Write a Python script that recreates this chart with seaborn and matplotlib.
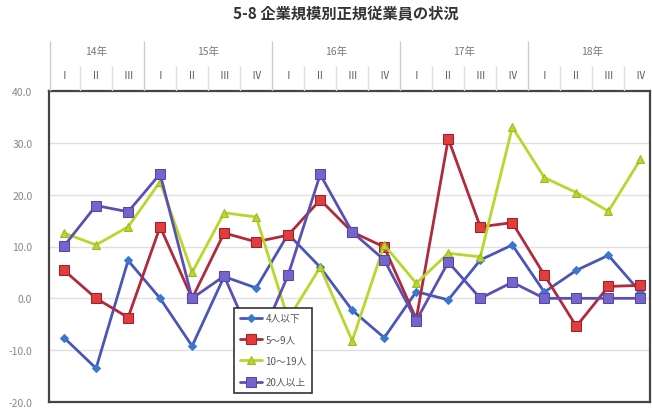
import matplotlib
matplotlib.use("Agg")
import matplotlib.pyplot as plt
import numpy as np
import seaborn as sns

sns.set_theme(style="white")
plt.rcParams['font.family'] = ['Noto Sans CJK JP', 'DejaVu Sans']

# data
years = ['14年', '15年', '16年', '17年', '18年']
year_counts = [3, 4, 4, 4, 4]
quarters = ['Ⅰ', 'Ⅱ', 'Ⅲ',
            'Ⅰ', 'Ⅱ', 'Ⅲ', 'Ⅳ',
            'Ⅰ', 'Ⅱ', 'Ⅲ', 'Ⅳ',
            'Ⅰ', 'Ⅱ', 'Ⅲ', 'Ⅳ',
            'Ⅰ', 'Ⅱ', 'Ⅲ', 'Ⅳ']
labels = ['4人以下', '5～9人', '10～19人', '20人以上']
v_4 = [-7.6, -13.5, 7.3, 0.0, -9.2, 4.2, 2.0, 12.4, 6.0, -2.3, -7.6,
       1.3, -0.3, 7.4, 10.3, 1.2, 5.4, 8.3, 1.2]
v_5_9 = [5.4, 0.0, -3.7, 13.8, 0.0, 12.6, 10.9, 12.2, 19.0, 12.8, 9.9,
         -4.0, 30.8, 13.8, 14.6, 4.5, -5.4, 2.3, 2.5]
v_10_19 = [12.6, 10.3, 13.8, 22.5, 5.0, 16.5, 15.7, -4.0, 6.0, -8.2, 10.3,
           2.9, 8.7, 8.0, 33.0, 23.3, 20.4, 16.8, 26.8]
v_20 = [10.1, 17.9, 16.7, 24.0, 0.0, 4.3, -9.8, 4.5, 23.9, 12.8, 7.4,
        -4.3, 7.0, 0.0, 3.1, 0.0, 0.0, 0.0, 0.0]
yticks = [40, 30, 20, 10, 0, -10, -20]

x = np.arange(len(quarters))

fig = plt.figure(figsize=(6.52, 4.14), dpi=100)
W, H = 652, 414
ax = fig.add_axes([49 / W, 11 / H, 601 / W, 311 / H])
hax = fig.add_axes([49 / W, (H - 92) / H, 601 / W, 50 / H], sharex=ax)

styles = [
    dict(color='#4a55b8', marker='D', markersize=4, markerfacecolor='#3a78d0', markeredgecolor='#3a78d0'),
    dict(color='#b02a3a', marker='s', markersize=7, markerfacecolor='#e23c3c', markeredgecolor='#a02030'),
    dict(color='#b9d62c', marker='^', markersize=6, markerfacecolor='#b9d62c', markeredgecolor='#9cb820'),
    dict(color='#5a50b4', marker='s', markersize=7, markerfacecolor='#7465cc', markeredgecolor='#5548a8'),
]
for vals, lab, st in zip([v_4, v_5_9, v_10_19, v_20], labels, styles):
    sns.lineplot(x=x, y=vals, ax=ax, label=lab, linewidth=2, **st)

ax.set_xlim(-0.47, 18.3)
ax.set_ylim(-20, 40)
ax.set_yticks(yticks)
ax.set_yticklabels([f'{t:.1f}' for t in yticks], color='#888888', fontsize=7.5)
ax.tick_params(axis='y', length=0, pad=12)
ax.tick_params(axis='x', bottom=False, labelbottom=False)
ax.yaxis.grid(True, color='#e0e0e0', linewidth=1)
for sp in ax.spines.values():
    sp.set_color('#444444')
    sp.set_linewidth(1.6)

leg = ax.legend(loc='lower left', bbox_to_anchor=(0.3, 0.014), fontsize=7,
                frameon=True, fancybox=False, framealpha=1, edgecolor='#333333',
                handlelength=2.3, handletextpad=0.3, labelspacing=1.15, borderpad=0.6)
leg.get_frame().set_linewidth(1.2)
leg.set_zorder(10)
for t in leg.get_texts():
    t.set_color('#555555')

# header table with years and quarters
hax.set_ylim(0, 1)
hax.axis('off')
start = 0
for yr, n in zip(years, year_counts):
    hax.text(start + (n - 1) / 2, 0.8, yr, ha='center', va='center', fontsize=7.5, color='#777777')
    start += n
for i, q in enumerate(quarters):
    hax.text(i, 0.32, q, ha='center', va='center', fontsize=7, color='#555555')
bounds = np.cumsum(year_counts)[:-1] - 0.5
hax.vlines([-0.45], 0, 1, color='#cccccc', linewidth=1)
hax.vlines(bounds, 0, 1, color='#cccccc', linewidth=1)
inner = [i + 0.5 for i in range(len(quarters) - 1) if i + 0.5 not in bounds]
hax.vlines(inner, 0, 0.5, color='#dddddd', linewidth=1)

fig.text(0.53, 0.966, '5-8 企業規模別正規従業員の状況', ha='center', va='center',
         fontsize=11, fontweight='bold', color='#333333')

fig.savefig('out.png', dpi=100)
